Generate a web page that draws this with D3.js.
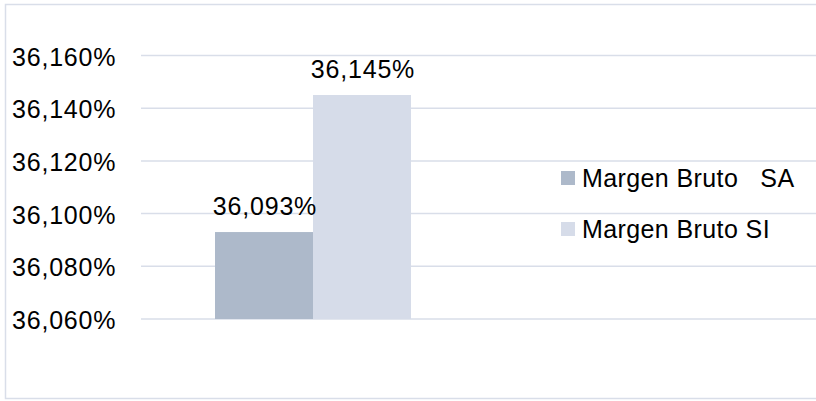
<!DOCTYPE html>
<html>
<head>
<meta charset="utf-8">
<script src="https://cdn.jsdelivr.net/npm/d3@7"></script>
<style>
  body { margin: 0; background: #fff; }
  svg text { font-family: "Liberation Sans", Arial, sans-serif; fill: #000; white-space: pre; }
</style>
</head>
<body>
<div id="chart"></div>
<script>
// data
const categories = ["Margen"];
const seriesNames = ["Margen Bruto   SA", "Margen Bruto SI"];
const seriesValues = [36.093, 36.145];
const yTicks = [36.06, 36.08, 36.1, 36.12, 36.14, 36.16];
const colors = ["#adb9ca", "#d6dce9"];

const width = 816;
const height = 401;

const locale = d3.formatLocale({ decimal: ",", thousands: ".", grouping: [3], currency: ["", ""] });
const fmt = (v) => locale.format(".3f")(v) + "%";

const svg = d3
  .select("#chart")
  .append("svg")
  .attr("width", width)
  .attr("height", height);

// outer border
svg
  .append("rect")
  .attr("x", 5.5)
  .attr("y", 4.5)
  .attr("width", 820)
  .attr("height", 394)
  .attr("fill", "none")
  .attr("stroke", "#d9dee9")
  .attr("stroke-width", 1.5);

const yScale = d3.scaleLinear().domain([36.06, 36.16]).range([319, 55.5]);

const xScale = d3.scaleBand().domain(categories).range([141, 485]).paddingOuter(0.3776);
const xInner = d3.scaleBand().domain(seriesNames).range([0, xScale.bandwidth()]);

// gridlines
svg
  .append("g")
  .selectAll("line")
  .data(yTicks)
  .enter()
  .append("line")
  .attr("x1", 141)
  .attr("x2", width)
  .attr("y1", (d) => yScale(d))
  .attr("y2", (d) => yScale(d))
  .attr("stroke", "#d9dee9")
  .attr("stroke-width", 1.5);

// y tick labels
svg
  .append("g")
  .selectAll("text")
  .data(yTicks)
  .enter()
  .append("text")
  .attr("x", 12)
  .attr("y", (d) => yScale(d) + 10)
  .attr("font-size", 25)
  .attr("letter-spacing", 0.8)
  .text((d) => fmt(d));

// bars
const bars = svg.append("g");
categories.forEach((c) => {
  bars
    .selectAll("rect.s")
    .data(seriesValues)
    .enter()
    .append("rect")
    .attr("x", (d, i) => xScale(c) + xInner(seriesNames[i]))
    .attr("y", (d) => yScale(d))
    .attr("width", xInner.bandwidth())
    .attr("height", (d) => yScale(36.06) - yScale(d))
    .attr("fill", (d, i) => colors[i]);

  bars
    .selectAll("text")
    .data(seriesValues)
    .enter()
    .append("text")
    .attr("x", (d, i) => xScale(c) + xInner(seriesNames[i]) + xInner.bandwidth() / 2 + 1)
    .attr("y", (d) => yScale(d) - 17)
    .attr("text-anchor", "middle")
    .attr("font-size", 25)
    .attr("letter-spacing", 0.8)
    .text((d) => fmt(d));
});

// legend
const legend = svg
  .append("g")
  .selectAll("g")
  .data(seriesNames)
  .enter()
  .append("g")
  .attr("transform", (d, i) => "translate(561," + (171 + i * 51) + ")");

legend
  .append("rect")
  .attr("width", 14)
  .attr("height", 14)
  .attr("fill", (d, i) => colors[i]);

legend
  .append("text")
  .attr("x", 21)
  .attr("y", 15.5)
  .attr("font-size", 25)
  .attr("letter-spacing", 0.4)
  .text((d) => d);
</script>
</body>
</html>
